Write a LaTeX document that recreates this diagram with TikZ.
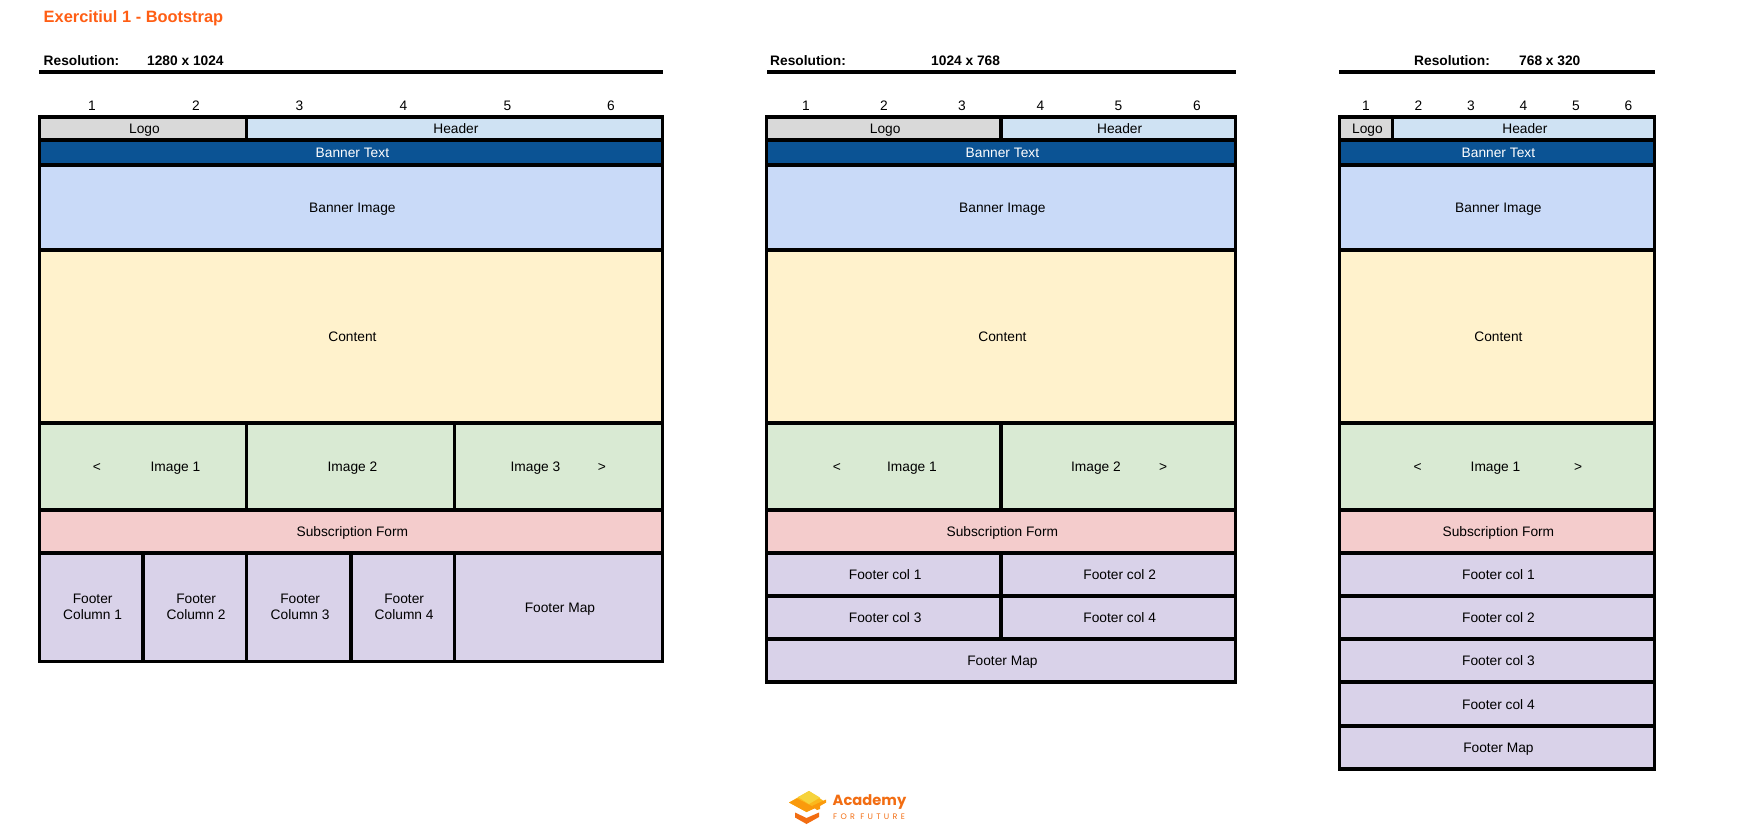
\documentclass[tikz,border=0pt]{standalone}
\usepackage{fontspec}
\setmainfont{Liberation Sans}
\newfontfamily\logofont{Poppins}
\newfontfamily\logofontb[LetterSpace=41]{Poppins}
\definecolor{cLogo}{HTML}{D9D9D9}
\definecolor{cHead}{HTML}{CFE2F3}
\definecolor{cBanT}{HTML}{0B5394}
\definecolor{cBanI}{HTML}{C9DAF8}
\definecolor{cCont}{HTML}{FFF2CC}
\definecolor{cImg}{HTML}{D9EAD3}
\definecolor{cSub}{HTML}{F4CCCC}
\definecolor{cFoot}{HTML}{D9D2E9}
\definecolor{cOrange}{HTML}{FF5E14}
\definecolor{cLogoA}{HTML}{F6D33C}
\definecolor{cLogoB}{HTML}{FBB81C}
\definecolor{cLogoC}{HTML}{FA9A0C}
\definecolor{cLogoD}{HTML}{F26D12}
\tikzset{
  cellbase/.style={draw=black,line width=3.4pt,inner sep=0pt,outer sep=0pt,font=\fontsize{13.75}{16}\selectfont},
  cellone/.style={cellbase,text height=10pt,text depth=-1.5pt},
  celltwo/.style={cellbase,align=center},
  lab/.style={inner sep=0pt,text height=10pt,text depth=-1.5pt,font=\fontsize{13.75}{16}\selectfont},
  nums/.style={inner sep=0pt,text height=10pt,text depth=0pt,font=\fontsize{13.75}{16}\selectfont},
  reslab/.style={inner sep=0pt,anchor=west,text height=10pt,text depth=0pt,font=\fontsize{13.75}{16}\selectfont\bfseries},
  rule/.style={draw=black,line width=3.4pt},
}
\newcommand{\cellx}[8]{%
  \pgfmathsetmacro{\cw}{#6-#4}\pgfmathsetmacro{\ch}{#7-#5}%
  \pgfmathsetmacro{\cx}{(#4+#6)/2-0.6}\pgfmathsetmacro{\cy}{(#5+#7)/2}%
  \node[#1,fill=#2,minimum width=\cw pt,minimum height=\ch pt] (#3) at (\cx,\cy) {#8};%
}
\newcommand{\pad}{\hspace*{3pt}}
\newcommand{\cell}[6]{\cellx{cellone}{#1}{#2}{#3}{#4}{#5}{#6}}
\newcommand{\cellt}[7]{\cellx{cellone}{#1}{#2}{#3}{#4}{#5}{#6}{\pad #7}}
\newcommand{\celll}[7]{\cellx{celltwo}{#1}{#2}{#3}{#4}{#5}{#6}{\pad #7}}
\begin{document}
\begin{tikzpicture}[x=1pt,y=-1pt]
\useasboundingbox (0,0) rectangle (1750,839);
\node[inner sep=0pt,anchor=west,text=cOrange,text height=11pt,text depth=0pt,font=\fontsize{16.4}{18}\selectfont\bfseries] (title) at (43.5,16.5) {Exercitiul 1 - Bootstrap};

% ---------- panel 1
\node[reslab] (r1a) at (43.5,60) {Resolution:};
\node[reslab] (r1b) at (147,60) {1280 x 1024};
\coordinate (l1a) at (39,72); \coordinate (l1b) at (663,72);
\draw[rule] (l1a) -- (l1b);
\foreach \i/\x in {1/92,2/196,3/299.5,4/403.5,5/507.5,6/611}{\node[nums] (n1\i) at (\x,105) {\i};}
\cellt{cLogo}{a1}{40}{117}{247}{140}{Logo}
\cellt{cHead}{a2}{247}{117}{663}{140}{Header}
\cellt{cBanT}{a3}{40}{140}{663}{165}{\textcolor{white}{Banner Text}}
\cellt{cBanI}{a4}{40}{165}{663}{250}{Banner Image}
\cellt{cCont}{a5}{40}{250}{663}{423}{Content}
\cellt{cImg}{a6}{40}{423}{247}{510}{}
\cellt{cImg}{a7}{247}{423}{455}{510}{}
\cellt{cImg}{a8}{455}{423}{663}{510}{}
\cellt{cSub}{a9}{40}{510}{663}{553}{Subscription Form}
\celll{cFoot}{a10}{40}{553}{143.5}{661.5}{Footer\\\pad Column 1}
\celll{cFoot}{a11}{143.5}{553}{247}{661.5}{Footer\\\pad Column 2}
\celll{cFoot}{a12}{247}{553}{351.5}{661.5}{Footer\\\pad Column 3}
\celll{cFoot}{a13}{351.5}{553}{455}{661.5}{Footer\\\pad Column 4}
\cellt{cFoot}{a14}{455}{553}{663}{661.5}{Footer Map}
\node[lab] (t1) at (97,466.5) {<};
\node[lab] (t2) at (175.5,466.5) {Image 1};
\node[lab] (t3) at (352.5,466.5) {Image 2};
\node[lab] (t4) at (535.5,466.5) {Image 3};
\node[lab] (t5) at (602,466.5) {>};

% ---------- panel 2
\node[reslab] (r2a) at (770,60) {Resolution:};
\node[reslab] (r2b) at (931,60) {1024 x 768};
\coordinate (l2a) at (767,72); \coordinate (l2b) at (1236,72);
\draw[rule] (l2a) -- (l2b);
\foreach \i/\x in {1/806,2/884,3/962,4/1040.5,5/1118.5,6/1197}{\node[nums] (n2\i) at (\x,105) {\i};}
\cellt{cLogo}{b1}{767}{117}{1001.5}{140}{Logo}
\cellt{cHead}{b2}{1001.5}{117}{1236}{140}{Header}
\cellt{cBanT}{b3}{767}{140}{1236}{165}{\textcolor{white}{Banner Text}}
\cellt{cBanI}{b4}{767}{165}{1236}{250}{Banner Image}
\cellt{cCont}{b5}{767}{250}{1236}{423}{Content}
\cellt{cImg}{b6}{767}{423}{1001.5}{510}{}
\cellt{cImg}{b7}{1001.5}{423}{1236}{510}{}
\cellt{cSub}{b8}{767}{510}{1236}{553}{Subscription Form}
\cellt{cFoot}{b9}{767}{553}{1001.5}{596}{Footer col 1}
\cellt{cFoot}{b10}{1001.5}{553}{1236}{596}{Footer col 2}
\cellt{cFoot}{b11}{767}{596}{1001.5}{639}{Footer col 3}
\cellt{cFoot}{b12}{1001.5}{596}{1236}{639}{Footer col 4}
\cellt{cFoot}{b13}{767}{639}{1236}{682}{Footer Map}
\node[lab] (u1) at (837,466.5) {<};
\node[lab] (u2) at (912,466.5) {Image 1};
\node[lab] (u3) at (1096,466.5) {Image 2};
\node[lab] (u4) at (1163,466.5) {>};

% ---------- panel 3
\node[reslab] (r3a) at (1414,60) {Resolution:};
\node[reslab] (r3b) at (1519,60) {768 x 320};
\coordinate (l3a) at (1339,72); \coordinate (l3b) at (1655,72);
\draw[rule] (l3a) -- (l3b);
\foreach \i/\x in {1/1366,2/1418.5,3/1471,4/1523.5,5/1576,6/1628.5}{\node[nums] (n3\i) at (\x,105) {\i};}
\cellt{cLogo}{c1}{1340}{117}{1393}{140}{Logo}
\cellt{cHead}{c2}{1393}{117}{1655}{140}{Header}
\cellt{cBanT}{c3}{1340}{140}{1655}{165}{\textcolor{white}{Banner Text}}
\cellt{cBanI}{c4}{1340}{165}{1655}{250}{Banner Image}
\cellt{cCont}{c5}{1340}{250}{1655}{423}{Content}
\cellt{cImg}{c6}{1340}{423}{1655}{510}{}
\cellt{cSub}{c7}{1340}{510}{1655}{553}{Subscription Form}
\cellt{cFoot}{c8}{1340}{553}{1655}{596}{Footer col 1}
\cellt{cFoot}{c9}{1340}{596}{1655}{639}{Footer col 2}
\cellt{cFoot}{c10}{1340}{639}{1655}{682}{Footer col 3}
\cellt{cFoot}{c11}{1340}{682}{1655}{726}{Footer col 4}
\cellt{cFoot}{c12}{1340}{726}{1655}{769}{Footer Map}
\node[lab] (v1) at (1417.5,466.5) {<};
\node[lab] (v2) at (1495.5,466.5) {Image 1};
\node[lab] (v3) at (1578,466.5) {>};

% ---------- logo mark
\fill[cLogoB] (789,802.5) -- (809,791) -- (826,802.5) -- (806.5,812) -- cycle;
\fill[cLogoA] (798,797) -- (809,791) -- (820,797.5) -- (809,804) -- cycle;
\fill[cLogoC] (789,802.5) -- (797,798.5) -- (815.5,808) -- (806.5,812) -- cycle;
\fill[cLogoC] (812,806) -- (826,799.5) -- (826,802.5) -- (820,806) -- (820,809) -- (817,810) -- cycle;
\fill[cLogoD] (795,812.5) -- (806.5,818) -- (819,812.5) -- (819,817) -- (806.5,824) -- (795,817.5) -- cycle;
\node[inner sep=0pt,anchor=west,text=cLogoD,font=\logofont\fontsize{14.7}{17}\selectfont\bfseries] (acad) at (832.5,802) {Academy};
\node[inner sep=0pt,anchor=west,text=cLogoD,font=\logofontb\fontsize{8}{9}\selectfont] (fut) at (833,816.5) {FOR FUTURE};
\end{tikzpicture}
\end{document}
